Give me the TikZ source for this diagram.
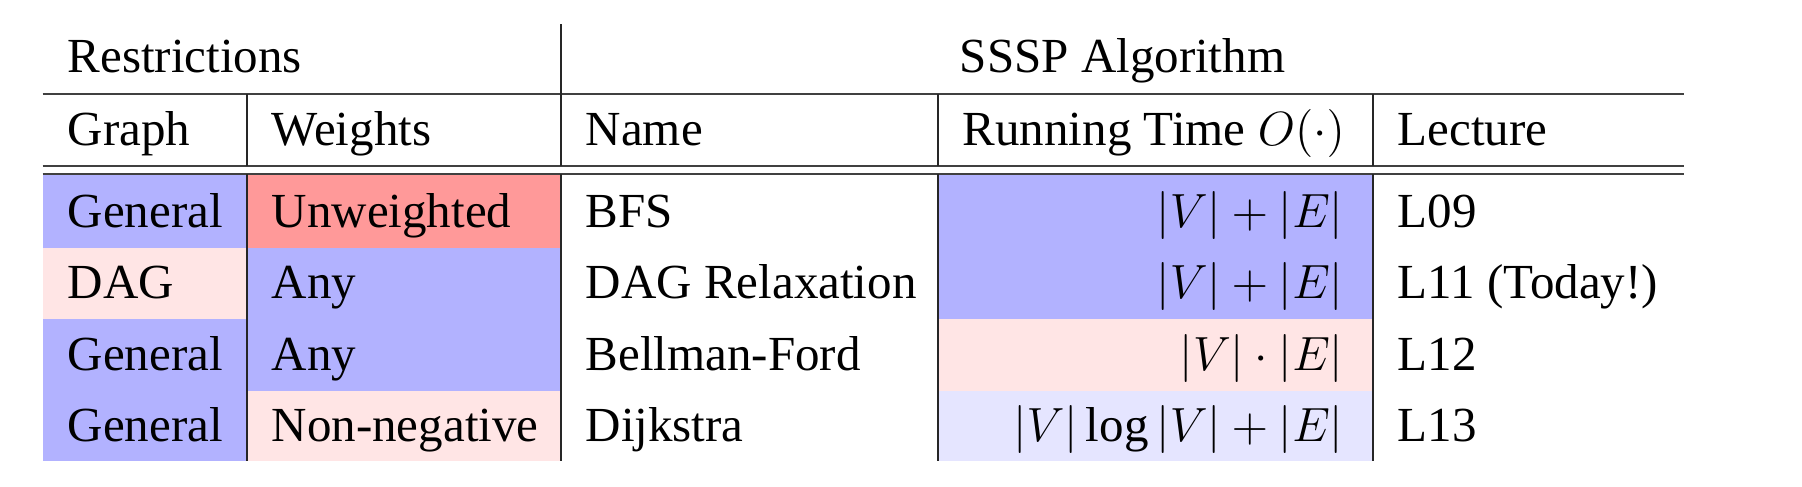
\documentclass[tikz,border=0pt]{standalone}
\usepackage{amsmath}
\usepackage{fontspec}
\setmainfont{Liberation Serif}
\usepackage{tikz}
\colorlet{bluecell}{blue!30}
\colorlet{paleblue}{blue!10}
\colorlet{redcell}{red!40}
\colorlet{palered}{red!10}
\tikzset{
cell/.style = {anchor=base west, inner sep=0pt},
rcell/.style = {anchor=base east, inner sep=0pt},
hrule/.style = {draw=black!75, line width=0.6pt},
vrule/.style = {draw=black!85, line width=0.35pt}
}

\begin{document}
\begin{tikzpicture}[x=0.25pt, y=-0.25pt, font=\fontsize{12.25}{14}\selectfont]
\useasboundingbox (0,0) rectangle (1802,486);

% cell colours
\fill[bluecell] (42.5,174) rectangle (247,247.5);
\fill[redcell]  (247,174) rectangle (561,247.5);
\fill[bluecell] (938,174) rectangle (1373,247.5);
\fill[palered]  (42.5,247.5) rectangle (247,319);
\fill[bluecell] (247,247.5) rectangle (561,319);
\fill[bluecell] (938,247.5) rectangle (1373,319);
\fill[bluecell] (42.5,319) rectangle (247,390.5);
\fill[bluecell] (247,319) rectangle (561,390.5);
\fill[palered]  (938,319) rectangle (1373,390.5);
\fill[bluecell] (42.5,390.5) rectangle (247,461);
\fill[palered]  (247,390.5) rectangle (561,461);
\fill[paleblue] (938,390.5) rectangle (1373,461);

% rules
\draw[hrule] (42.5,94) -- (1684,94);
\draw[hrule] (42.5,166) -- (1684,166);
\draw[hrule] (42.5,174) -- (1684,174);
\draw[vrule] (561,24) -- (561,166);
\draw[vrule] (561,174) -- (561,461);
\draw[vrule] (247,94) -- (247,166);
\draw[vrule] (247,174) -- (247,461);
\draw[vrule] (938,94) -- (938,166);
\draw[vrule] (938,174) -- (938,461);
\draw[vrule] (1373,94) -- (1373,166);
\draw[vrule] (1373,174) -- (1373,461);

% header
\node[cell] (restr) at (67,72) {Restrictions};
\node[anchor=base, inner sep=0pt] (sssp) at (1122.5,72) {SSSP Algorithm};
\node[cell] (hgraph) at (67,145) {Graph};
\node[cell] (hweights) at (271,145) {Weights};
\node[cell] (hname) at (585,145) {Name};
\node[cell] (htime) at (962,145) {Running Time $O(\cdot)$};
\node[cell] (hlect) at (1397,145) {Lecture};

% BFS
\node[cell] (g1) at (67,227) {General};
\node[cell] (w1) at (271,227) {Unweighted};
\node[cell] (n1) at (585,227) {BFS};
\node[rcell] (t1) at (1344,227) {$|V|+|E|$};
\node[cell] (l1) at (1397,227) {L09};

% DAG relaxation
\node[cell] (g2) at (67,298.5) {DAG};
\node[cell] (w2) at (271,298.5) {Any};
\node[cell] (n2) at (585,298.5) {DAG Relaxation};
\node[rcell] (t2) at (1344,298.5) {$|V|+|E|$};
\node[cell] (l2) at (1397,298.5) {L11 (Today!)};

% Bellman-Ford
\node[cell] (g3) at (67,370) {General};
\node[cell] (w3) at (271,370) {Any};
\node[cell] (n3) at (585,370) {Bellman-Ford};
\node[rcell] (t3) at (1344,370) {$|V|\cdot|E|$};
\node[cell] (l3) at (1397,370) {L12};

% Dijkstra
\node[cell] (g4) at (67,441.5) {General};
\node[cell] (w4) at (271,441.5) {Non-negative};
\node[cell] (n4) at (585,441.5) {Dijkstra};
\node[rcell] (t4) at (1344,441.5) {$|V|\log|V|+|E|$};
\node[cell] (l4) at (1397,441.5) {L13};
\end{tikzpicture}
\end{document}
